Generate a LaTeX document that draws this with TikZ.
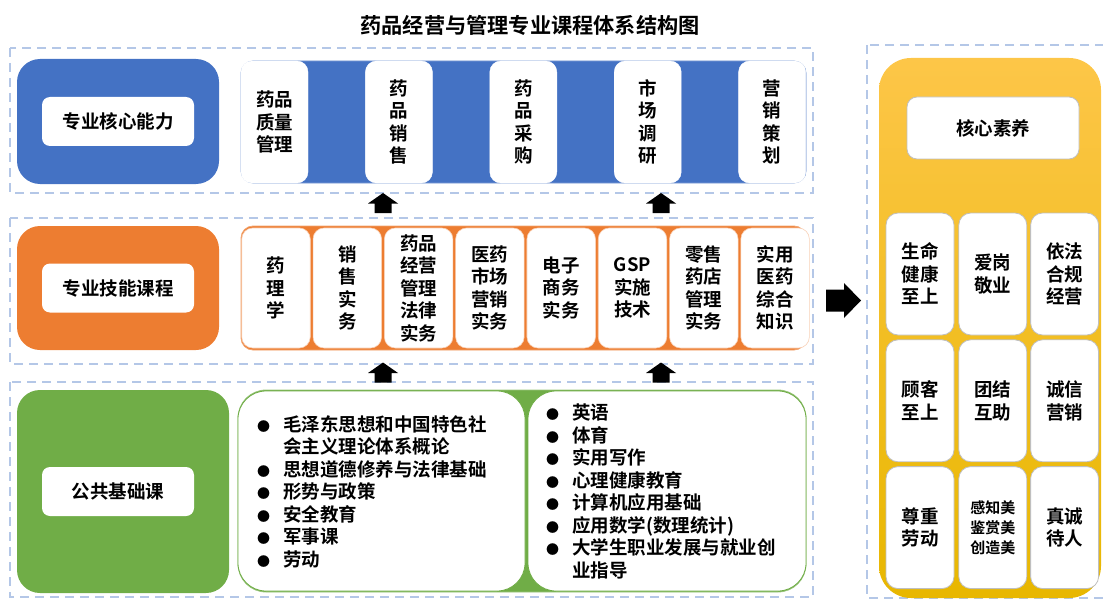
\documentclass[tikz,border=0pt]{standalone}
\usepackage{fontspec}
\setmainfont{Noto Sans CJK SC}[BoldFont={Noto Sans CJK SC Bold}]
\usetikzlibrary{positioning}
\definecolor{dashblue}{RGB}{180,199,231}
\definecolor{ppblue}{RGB}{68,114,196}
\definecolor{pporange}{RGB}{237,125,49}
\definecolor{ppgreen}{RGB}{112,173,71}
\definecolor{goldtop}{RGB}{253,198,72}
\definecolor{goldmid}{RGB}{255,199,38}
\definecolor{goldbot}{RGB}{232,183,0}
\definecolor{cellgray}{RGB}{191,191,191}
\newcommand{\ppbullet}{\makebox[26pt][l]{\fontsize{13}{13}\selectfont ●}}
\newcommand{\ppindent}{\hspace*{26pt}}

\begin{document}
\begin{tikzpicture}
  [x=1pt,y=-1pt,
   font=\bfseries\fontsize{18.5}{22.5}\selectfont,
   every node/.style={rectangle,
                      inner sep=0pt
                      },
   frame/.style={draw=dashblue,line width=2pt,dash pattern=on 9pt off 6pt},
   lbl/.style={rounded corners=23pt,fill=#1,minimum width=202pt},
   tag/.style={rounded corners=8pt,fill=white,align=center,
               minimum width=152pt,minimum height=49pt},
   strip/.style={rounded corners=12pt,fill=#1,draw=#1!70!white,line width=.8pt},
   tcell/.style={rounded corners=11pt,fill=white,draw=white,align=center,
                 minimum width=67pt,minimum height=122pt},
   scell/.style={rounded corners=11pt,fill=white,draw=pporange!35,line width=.6pt,
                 align=center,minimum width=68.5pt,minimum height=120pt},
   gcell/.style={rounded corners=28pt,fill=white,draw=ppgreen,line width=.8pt,
                 minimum height=200pt},
   kcell/.style={rounded corners=12pt,fill=white,draw=cellgray,line width=.8pt,
                 align=center,minimum width=68pt,minimum height=122pt},
   uparr/.pic={\fill (-8.5,10) -- (-8.5,0.5) -- (-15,0.5) -- (0,-10)
                 -- (15,0.5) -- (8.5,0.5) -- (8.5,10) -- cycle;},
   rarr/.pic={\fill (-17.5,-11) -- (0.5,-11) -- (0.5,-17.5) -- (17.5,0)
                -- (0.5,17.5) -- (0.5,11) -- (-17.5,11) -- cycle;}]
  \useasboundingbox (0,0) rectangle (1103,599);

  \node[font=\bfseries\fontsize{21.2}{24}\selectfont] (title) at (530,25)
    {药品经营与管理专业课程体系结构图};

  % dashed frames
  \draw[frame] (10,48) rectangle (813,193);
  \draw[frame] (10,218) rectangle (813,364);
  \draw[frame] (10,382) rectangle (813,597);
  \draw[frame] (867,45) rectangle (1130,598);

  % row 1
  \node[lbl=ppblue,minimum height=125pt] (coreLbl) at (118,121.5) {};
  \node[tag] (coreTag) at (coreLbl) {专业核心能力};
  \node[strip=ppblue,minimum width=565pt,minimum height=122pt] (coreStrip) at (523.5,122) {};
  \node[tcell] (t1) at (274.5,122) {药品\\质量\\管理};
  \node[tcell,right=57pt of t1] (t2) {药\\品\\销\\售};
  \node[tcell,right=57pt of t2] (t3) {药\\品\\采\\购};
  \node[tcell,right=57pt of t3] (t4) {市\\场\\调\\研};
  \node[tcell,right=57pt of t4] (t5) {营\\销\\策\\划};

  % row 2
  \node[lbl=pporange,minimum height=124pt] (skillLbl) at (118,288) {};
  \node[tag] (skillTag) at (skillLbl) {专业技能课程};
  \node[strip=pporange,minimum width=565pt,minimum height=124pt] (skillStrip) at (523.5,288) {};
  \node[scell] (s1) at (276,288) {药\\理\\学};
  \node[scell,right=2.2pt of s1] (s2) {销\\售\\实\\务};
  \node[scell,right=2.2pt of s2] (s3) {药品\\经营\\管理\\法律\\实务};
  \node[scell,right=2.2pt of s3] (s4) {医药\\市场\\营销\\实务};
  \node[scell,right=2.2pt of s4] (s5) {电子\\商务\\实务};
  \node[scell,right=2.2pt of s5] (s6) {GSP\\实施\\技术};
  \node[scell,right=2.2pt of s6] (s7) {零售\\药店\\管理\\实务};
  \node[scell,right=2.2pt of s7] (s8) {实用\\医药\\综合\\知识};

  % row 3
  \node[lbl=ppgreen,minimum width=212pt,minimum height=203pt] (baseLbl) at (123,491.5) {};
  \node[tag] (baseTag) at (118,491.5) {公共基础课};
  \node[strip=ppgreen,rounded corners=28pt,minimum width=568pt,minimum height=202pt] (baseStrip) at (522,491) {};
  \node[gcell,minimum width=287pt] (b1) at (381.5,491) {};
  \node[gcell,minimum width=278pt] (b2) at (667,491) {};
  \node[anchor=west,align=left] (polList) at (257,491.5)
    {\ppbullet 毛泽东思想和中国特色社\\\ppindent 会主义理论体系概论\\
     \ppbullet 思想道德修养与法律基础\\\ppbullet 形势与政策\\
     \ppbullet 安全教育\\\ppbullet 军事课\\\ppbullet 劳动};
  \node[anchor=west,align=left] (genList) at (546,491.5)
    {\ppbullet 英语\\\ppbullet 体育\\\ppbullet 实用写作\\
     \ppbullet 心理健康教育\\\ppbullet 计算机应用基础\\
     \ppbullet 应用数学(数理统计)\\
     \ppbullet 大学生职业发展与就业创\\\ppindent 业指导};

  % arrows
  \pic (up1) at (383,203) {uparr};
  \pic (up2) at (661,203) {uparr};
  \pic (up3) at (383,372.5) {uparr};
  \pic (up4) at (661,372.5) {uparr};
  \pic (toCore) at (843.5,300.5) {rarr};

  % core literacy
  \node[rounded corners=32pt,minimum width=222pt,minimum height=540pt,
        top color=goldtop,middle color=goldmid,bottom color=goldbot] (coreBg) at (990,328) {};
  \node[tag,draw=cellgray,line width=.8pt,rounded corners=10pt,
        minimum width=172pt,minimum height=62pt] (coreHead) at (993,128) {核心素养};
  \node[kcell] (k11) at (920,274) {生命\\健康\\至上};
  \node[kcell,right=4pt of k11] (k12) {爱岗\\敬业};
  \node[kcell,right=3pt of k12] (k13) {依法\\合规\\经营};
  \node[kcell,below=4pt of k11] (k21) {顾客\\至上};
  \node[kcell,below=4pt of k12] (k22) {团结\\互助};
  \node[kcell,below=4pt of k13] (k23) {诚信\\营销};
  \node[kcell,below=4pt of k21] (k31) {尊重\\劳动};
  \node[kcell,below=4pt of k22,font=\bfseries\fontsize{15}{20}\selectfont] (k32) {感知美\\鉴赏美\\创造美};
  \node[kcell,below=4pt of k23] (k33) {真诚\\待人};
\end{tikzpicture}
\end{document}
